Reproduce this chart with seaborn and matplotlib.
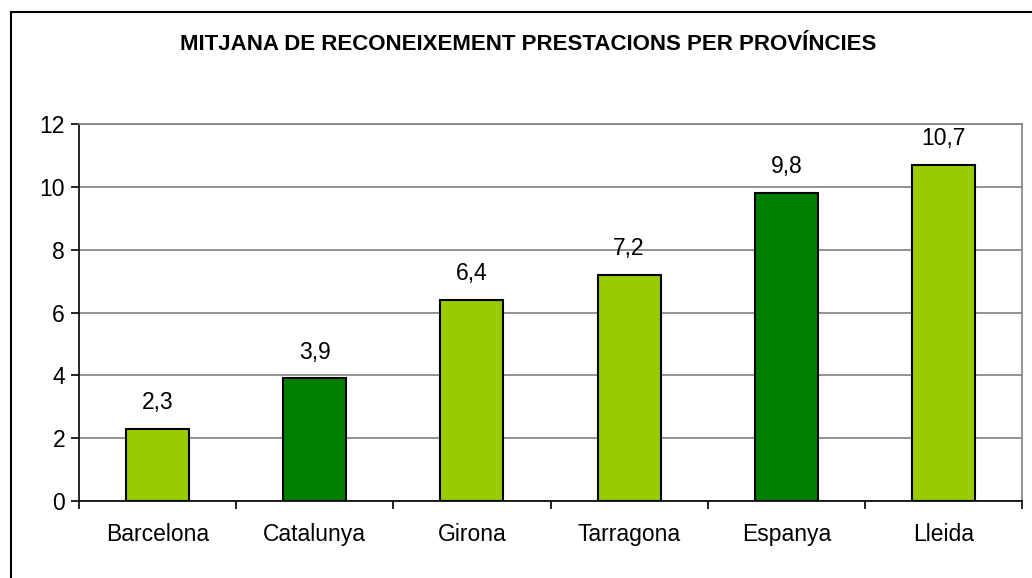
import matplotlib
matplotlib.use("Agg")
import matplotlib.pyplot as plt
import seaborn as sns
import pandas as pd
from matplotlib.patches import Rectangle

# data
categories = ["Barcelona", "Catalunya", "Girona", "Tarragona", "Espanya", "Lleida"]
values = [2.3, 3.9, 6.4, 7.2, 9.8, 10.7]
bar_colors = ["#99CC00", "#008000", "#99CC00", "#99CC00", "#008000", "#99CC00"]
y_ticks = [0, 2, 4, 6, 8, 10, 12]
title = "MITJANA DE RECONEIXEMENT PRESTACIONS PER PROVÍNCIES"

sns.set_theme(style="white")
plt.rcParams['font.family'] = ['Liberation Sans', 'DejaVu Sans']
plt.rcParams['text.color'] = 'black'
plt.rcParams['xtick.color'] = 'black'
plt.rcParams['ytick.color'] = 'black'
plt.rcParams['xtick.bottom'] = True
plt.rcParams['ytick.left'] = True

df = pd.DataFrame({"cat": categories, "val": values})

fig = plt.figure(figsize=(10.32, 5.78), dpi=100)
ax = fig.add_axes([79 / 1032, 1 - 501 / 578, (1022 - 79) / 1032, (501 - 124) / 578])

sns.barplot(data=df, x="cat", y="val", hue="cat", palette=bar_colors, legend=False,
            width=0.4, edgecolor="black", linewidth=1.5, saturation=1, ax=ax, zorder=3)

ax.set_ylim(0, 12)
ax.set_xlim(-0.5, len(categories) - 0.5)
ax.set_yticks(y_ticks)
ax.set_yticklabels([str(t) for t in y_ticks], fontsize=16.5)
ax.yaxis.grid(True, color="#808080", linewidth=1.2, zorder=0)
ax.set_axisbelow(True)

# category ticks sit between bars
ax.set_xticks(range(len(categories)))
ax.set_xticklabels(categories, fontsize=16.5)
ax.tick_params(axis="x", which="major", length=0, pad=16, labelcolor="black")
ax.set_xticks([i - 0.5 for i in range(len(categories) + 1)], minor=True)
ax.tick_params(axis="x", which="minor", bottom=True, length=6, width=1.2,
               color="black", direction="out")
ax.tick_params(axis="y", which="major", left=True, length=6, width=1.2,
               color="black", direction="out", pad=4, labelcolor="black")

ax.set_xlabel("")
ax.set_ylabel("")

for side in ["left", "bottom"]:
    ax.spines[side].set_color("black")
    ax.spines[side].set_linewidth(1.2)
for side in ["top", "right"]:
    ax.spines[side].set_visible(True)
    ax.spines[side].set_color("#808080")
    ax.spines[side].set_linewidth(1.2)

for i, v in enumerate(values):
    ax.annotate(f"{v:.1f}".replace(".", ","), (i, v), xytext=(0, 19),
                textcoords="offset points", ha="center", va="center",
                fontsize=16.5, color="black")

fig.text(0.5 * (181 + 875) / 1032, 1 - 45 / 578, title, ha="center", va="center",
         fontsize=16, fontweight="bold", color="black")

# outer chart frame (cut off on the right and bottom)
fig.patches.append(Rectangle((11 / 1032, -0.1), 1.2, 1 - 12 / 578 + 0.1,
                             transform=fig.transFigure, fill=False,
                             edgecolor="black", linewidth=1.5))

fig.savefig("out.png", dpi=100)
